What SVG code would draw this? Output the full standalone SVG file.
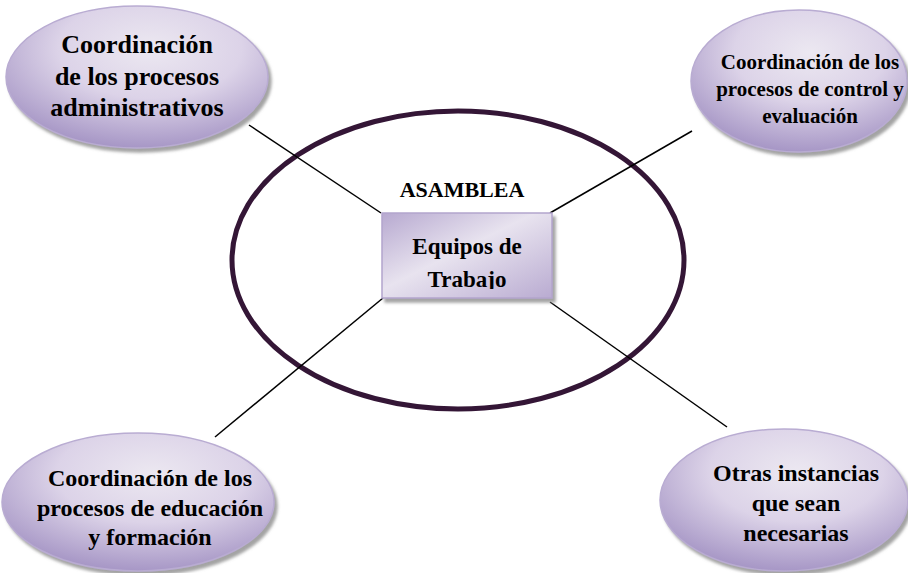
<svg xmlns="http://www.w3.org/2000/svg" width="908" height="573" viewBox="0 0 908 573">
<defs>
<radialGradient id="g" cx="0.55" cy="0.3" r="0.7">
<stop offset="0" stop-color="#ece8f1"/>
<stop offset="0.5" stop-color="#dcd3e8"/>
<stop offset="1" stop-color="#a797c6"/>
</radialGradient>
<linearGradient id="gr" x1="0" y1="0" x2="1" y2="1">
<stop offset="0" stop-color="#b7a9d0"/>
<stop offset="0.45" stop-color="#e8e3ef"/>
<stop offset="1" stop-color="#b9abd1"/>
</linearGradient>
<filter id="sh" x="-10%" y="-10%" width="125%" height="130%">
<feDropShadow dx="3" dy="4" stdDeviation="1.5" flood-color="#8c8c8c" flood-opacity="0.8"/>
</filter>
<clipPath id="boxclip"><rect x="382" y="213" width="170" height="76"/></clipPath>
</defs>
<style>
.node{fill:url(#g);stroke:#b9acd2;stroke-width:1.5;filter:url(#sh)}
.t{font-weight:bold;fill:#000;text-anchor:middle}
.c{stroke:#000;stroke-width:1.5;fill:none}
</style>
<g id="asamblea">
<ellipse cx="458" cy="260" rx="226" ry="149" fill="none" stroke="#341636" stroke-width="5"/>
<text class="t" font-family="'Liberation Serif', 'DejaVu Serif', serif" x="462" y="197" font-size="22">ASAMBLEA</text>
</g>
<g id="connectors">
<line class="c" x1="249" y1="125" x2="381" y2="213"/>
<line class="c" x1="550" y1="213" x2="692" y2="131"/>
<line class="c" x1="383" y1="298" x2="215" y2="437"/>
<line class="c" x1="550" y1="302" x2="727" y2="427"/>
</g>
<g id="equipos">
<rect x="382" y="213" width="170" height="85" fill="url(#gr)" stroke="#b3a5cd" stroke-width="1.5" filter="url(#sh)"/>
<text class="t" font-family="'Liberation Serif', 'DejaVu Serif', serif" x="467" y="254" font-size="23">Equipos de</text>
<text class="t" font-family="'Liberation Serif', 'DejaVu Serif', serif" x="467" y="287" font-size="23" clip-path="url(#boxclip)">Trabajo</text>
</g>
<g id="admin">
<ellipse class="node" cx="137" cy="77" rx="131" ry="71"/>
<text class="t" font-family="'Liberation Serif', 'DejaVu Serif', serif" font-size="26"><tspan x="137" y="53">Coordinación</tspan><tspan x="137" y="85">de los procesos</tspan><tspan x="137" y="116">administrativos</tspan></text>
</g>
<g id="control">
<ellipse class="node" cx="799" cy="81" rx="108" ry="71"/>
<text class="t" font-family="'Liberation Serif', 'DejaVu Serif', serif" font-size="21"><tspan x="810" y="69">Coordinación de los</tspan><tspan x="810" y="96">procesos de control y</tspan><tspan x="810" y="123">evaluación</tspan></text>
</g>
<g id="educacion">
<ellipse class="node" cx="138" cy="502" rx="136" ry="69"/>
<text class="t" font-family="'Liberation Serif', 'DejaVu Serif', serif" font-size="24"><tspan x="150" y="486">Coordinación de los</tspan><tspan x="150" y="516">procesos de educación</tspan><tspan x="150" y="545">y formación</tspan></text>
</g>
<g id="otras">
<ellipse class="node" cx="784" cy="500" rx="124" ry="71"/>
<text class="t" font-family="'Liberation Serif', 'DejaVu Serif', serif" font-size="24"><tspan x="796" y="481">Otras instancias</tspan><tspan x="796" y="511">que sean</tspan><tspan x="796" y="541">necesarias</tspan></text>
</g>
</svg>
